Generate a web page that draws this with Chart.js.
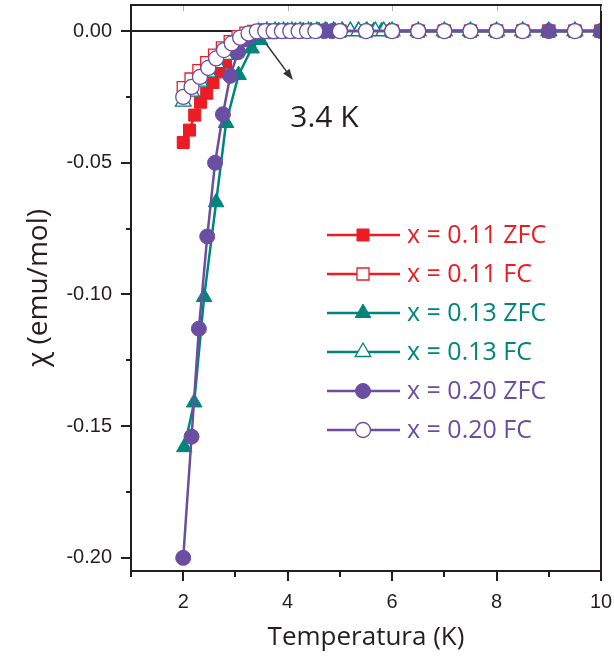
<!DOCTYPE html>
<html>
<head>
<meta charset="utf-8">
<script src="https://cdn.jsdelivr.net/npm/chart.js@4"></script>
<style>
  html, body { margin: 0; padding: 0; background: #fff; }
</style>
</head>
<body>
<canvas id="chiChart" width="614" height="661"></canvas>
<script>
// Susceptibility vs temperature
var tempZfc011 = [2.00, 2.12, 2.22, 2.33, 2.45, 2.57, 2.69, 2.81, 2.93, 3.05, 3.17, 3.29, 3.41, 3.53, 3.65, 3.77, 3.89, 4.01, 4.13, 4.25, 4.37, 4.49, 5.0, 5.5, 6.0, 6.5, 7.0, 7.5, 8.0, 8.5, 9.0, 9.5, 10.0];
var chiZfc011  = [-0.0423, -0.0376, -0.0319, -0.0270, -0.0236, -0.0195, -0.0155, -0.0118, -0.0085, -0.0057, -0.0033, -0.0016, -0.0005, 0, 0, 0, 0, 0, 0, 0, 0, 0, 0, 0, 0, 0, 0, 0, 0, 0, 0, 0, 0];

var tempFc011 = [2.00, 2.15, 2.30, 2.45, 2.60, 2.75, 2.90, 3.05, 3.20, 3.35, 3.50, 3.65, 3.80, 3.95, 4.10, 4.25, 4.40, 4.55, 5.0, 5.5, 6.0, 6.5, 7.0, 7.5, 8.0, 8.5, 9.0, 9.5, 10.0];
var chiFc011  = [-0.0215, -0.0182, -0.0150, -0.0120, -0.0091, -0.0064, -0.0040, -0.0021, -0.0008, -0.0001, 0, 0, 0, 0, 0, 0, 0, 0, 0, 0, 0, 0, 0, 0, 0, 0, 0, 0, 0];

var tempZfc013 = [2.02, 2.21, 2.40, 2.63, 2.82, 3.06, 3.31, 3.47, 3.65, 3.83, 4.00, 4.15, 4.30, 4.45, 4.60, 4.75, 4.90, 5.05, 5.20, 5.35, 5.50, 5.65, 5.80, 5.95, 6.5, 7.0, 7.5, 8.0, 8.5, 9.0, 9.5, 10.0];
var chiZfc013  = [-0.158, -0.141, -0.101, -0.065, -0.0349, -0.0167, -0.0066, -0.0034, -0.0012, 0, 0, 0, 0, 0, 0, 0, 0, 0, 0, 0, 0, 0, 0, 0, 0, 0, 0, 0, 0, 0, 0, 0];

var tempFc013 = [2.00, 2.16, 2.32, 2.48, 2.64, 2.80, 2.96, 3.12, 3.28, 3.44, 3.60, 3.76, 3.92, 4.08, 4.24, 4.40, 4.56, 4.72, 4.88, 5.04, 5.20, 5.36, 5.52, 5.68, 5.84, 6.0, 6.5, 7.0, 7.5, 8.0, 8.5, 9.0, 9.5, 10.0];
var chiFc013  = [-0.0268, -0.0230, -0.0192, -0.0157, -0.0122, -0.0090, -0.0060, -0.0035, -0.0016, -0.0004, 0, 0, 0, 0, 0, 0, 0, 0, 0, 0, 0, 0, 0, 0, 0, 0, 0, 0, 0, 0, 0, 0, 0, 0];

var tempZfc020 = [2.00, 2.16, 2.30, 2.46, 2.61, 2.76, 2.90, 3.05, 3.20, 3.35, 3.50, 3.65, 3.80, 3.95, 4.10, 4.25, 4.40, 4.55, 4.70, 4.85, 5.0, 5.5, 6.0, 6.5, 7.0, 7.5, 8.0, 8.5, 9.0, 9.5, 10.0];
var chiZfc020  = [-0.200, -0.154, -0.113, -0.078, -0.050, -0.0316, -0.0170, -0.0080, -0.0030, -0.0008, 0, 0, 0, 0, 0, 0, 0, 0, 0, 0, 0, 0, 0, 0, 0, 0, 0, 0, 0, 0, 0];

var tempFc020 = [2.00, 2.16, 2.32, 2.48, 2.63, 2.78, 2.93, 3.09, 3.25, 3.41, 3.57, 3.73, 3.89, 4.05, 4.21, 4.37, 4.53, 5.0, 5.5, 6.0, 6.5, 7.0, 7.5, 8.0, 8.5, 9.5];
var chiFc020  = [-0.0250, -0.0212, -0.0174, -0.0140, -0.0104, -0.0072, -0.0047, -0.0025, -0.0009, -0.0001, 0, 0, 0, 0, 0, 0, 0, 0, 0, 0, 0, 0, 0, 0, 0, 0];

var zeroLineTemp = [1, 10];
var zeroLineChi = [0, 0];

var seriesLabels = ['x = 0.11 ZFC', 'x = 0.11 FC', 'x = 0.13 ZFC', 'x = 0.13 FC', 'x = 0.20 ZFC', 'x = 0.20 FC'];

// axis ticks
var xTickValues = [2, 4, 6, 8, 10];
var xMinorTicks = [1, 3, 5, 7, 9];
var yTickValues = [0, -0.05, -0.10, -0.15, -0.20];
var yMinorTicks = [-0.025, -0.075, -0.125, -0.175];

// annotation "3.4 K" with arrow (data coordinates)
var arrowFrom = [3.59, -0.0049];
var arrowTo = [4.10, -0.0186];
var noteAt = [4.05, -0.033];
var noteText = '3.4 K';

var RED = '#ed1c24';
var TEAL = '#00857d';
var PURPLE = '#6a4ea2';

function pts(xs, ys) {
    return xs.map(function (x, i) { return { x: x, y: ys[i] }; });
}

function series(label, xs, ys, color, style, filled, radius, order) {
    return {
        label: label,
        data: pts(xs, ys),
        borderColor: color,
        backgroundColor: filled ? color : '#ffffff',
        pointBackgroundColor: filled ? color : '#ffffff',
        pointBorderColor: color,
        pointBorderWidth: filled ? 1 : 1.3,
        pointStyle: style,
        pointRadius: radius,
        borderWidth: 2.5,
        tension: 0,
        clip: 0,
        order: order
    };
}

var datasets = [
    series(seriesLabels[0], tempZfc011, chiZfc011, RED, 'rect', true, 8.5, 6),
    series(seriesLabels[1], tempFc011, chiFc011, RED, 'rect', false, 8.5, 5),
    series(seriesLabels[2], tempZfc013, chiZfc013, TEAL, 'triangle', true, 9, 4),
    series(seriesLabels[3], tempFc013, chiFc013, TEAL, 'triangle', false, 9, 3),
    series(seriesLabels[4], tempZfc020, chiZfc020, PURPLE, 'circle', true, 7.5, 2),
    series(seriesLabels[5], tempFc020, chiFc020, PURPLE, 'circle', false, 7.5, 1),
    {
        label: 'zero',
        data: pts(zeroLineTemp, zeroLineChi),
        borderColor: '#231f20',
        borderWidth: 2,
        pointRadius: 0,
        clip: 0,
        order: 10
    }
];

// tick marks, frame, legend and the arrow note
var decorations = {
    id: 'decorations',
    afterDraw: function (chart) {
        var ctx = chart.ctx;
        var xs = chart.scales.x, ys = chart.scales.y;
        var area = chart.chartArea;

        function tick(x1, y1, x2, y2) {
            ctx.beginPath(); ctx.moveTo(x1, y1); ctx.lineTo(x2, y2); ctx.stroke();
        }

        ctx.save();
        // frame on top and right
        ctx.strokeStyle = '#231f20';
        ctx.lineWidth = 2;
        tick(area.left - 1, area.top, area.right + 1, area.top);
        tick(area.right, area.top, area.right, area.bottom + 1);

        // outward ticks on left and bottom
        yTickValues.forEach(function (v) {
            var p = Math.round(ys.getPixelForValue(v));
            tick(area.left, p, area.left - 10, p);
        });
        yMinorTicks.forEach(function (v) {
            var p = Math.round(ys.getPixelForValue(v));
            tick(area.left, p, area.left - 5, p);
        });
        xTickValues.forEach(function (v) {
            var p = Math.round(xs.getPixelForValue(v));
            tick(p, area.bottom, p, area.bottom + 10);
        });
        xMinorTicks.forEach(function (v) {
            var p = Math.round(xs.getPixelForValue(v));
            tick(p, area.bottom, p, area.bottom + 6);
        });
        // faint ticks on the top edge
        ctx.strokeStyle = '#b0b0b0';
        ctx.lineWidth = 1;
        xTickValues.forEach(function (v) {
            var p = Math.round(xs.getPixelForValue(v)) + 0.5;
            tick(p, area.top + 1, p, area.top + 6);
        });

        // arrow
        var ax1 = xs.getPixelForValue(arrowFrom[0]), ay1 = ys.getPixelForValue(arrowFrom[1]);
        var ax2 = xs.getPixelForValue(arrowTo[0]), ay2 = ys.getPixelForValue(arrowTo[1]);
        var ang = Math.atan2(ay2 - ay1, ax2 - ax1);
        ctx.strokeStyle = '#333333';
        ctx.fillStyle = '#333333';
        ctx.lineWidth = 1.5;
        tick(ax1, ay1, ax2 - 8 * Math.cos(ang), ay2 - 8 * Math.sin(ang));
        ctx.beginPath();
        ctx.moveTo(ax2, ay2);
        ctx.lineTo(ax2 - 11 * Math.cos(ang) + 4 * Math.sin(ang), ay2 - 11 * Math.sin(ang) - 4 * Math.cos(ang));
        ctx.lineTo(ax2 - 11 * Math.cos(ang) - 4 * Math.sin(ang), ay2 - 11 * Math.sin(ang) + 4 * Math.cos(ang));
        ctx.closePath();
        ctx.fill();

        // note text
        ctx.fillStyle = '#231f20';
        ctx.font = '30px "Open Sans"';
        ctx.textAlign = 'left';
        ctx.textBaseline = 'middle';
        ctx.fillText(noteText, xs.getPixelForValue(noteAt[0]), ys.getPixelForValue(noteAt[1]));

        // legend inside the plot
        var lx1 = 327, lx2 = 400, mx = 363, tx = 407, ly = 235, step = 39;
        chart.data.datasets.forEach(function (ds, i) {
            if (i >= seriesLabels.length) return;
            var y = ly + i * step;
            ctx.strokeStyle = ds.borderColor;
            ctx.lineWidth = 2.5;
            tick(lx1, y, lx2, y);
            ctx.fillStyle = ds.pointBackgroundColor;
            ctx.lineWidth = ds.pointBorderWidth;
            Chart.helpers.drawPoint(ctx, {
                pointStyle: ds.pointStyle,
                radius: ds.pointRadius,
                borderWidth: ds.pointBorderWidth,
                rotation: 0
            }, mx, y);
            ctx.fillStyle = ds.borderColor;
            ctx.font = '25px "Open Sans"';
            ctx.textAlign = 'left';
            ctx.textBaseline = 'middle';
            ctx.fillText(ds.label, tx, y + 1);
        });
        ctx.restore();
    }
};

var ctx = document.getElementById('chiChart').getContext('2d');
var chiChart = new Chart(ctx, {
    type: 'line',
    data: { datasets: datasets },
    options: {
        responsive: false,
        animation: false,
        devicePixelRatio: 1,
        layout: { autoPadding: false, padding: { top: 5, right: 13, left: 0, bottom: 0 } },
        plugins: {
            legend: { display: false },
            tooltip: { enabled: false }
        },
        scales: {
            x: {
                type: 'linear',
                min: 1,
                max: 10,
                afterFit: function (scale) {
                    scale.height = 90;
                    scale.paddingLeft = 0;
                    scale.paddingRight = 0;
                },
                afterBuildTicks: function (scale) {
                    scale.ticks = xTickValues.map(function (v) { return { value: v }; });
                },
                grid: { drawOnChartArea: false, drawTicks: false },
                border: { color: '#231f20', width: 2 },
                ticks: {
                    padding: 19,
                    color: '#231f20',
                    maxRotation: 0,
                    font: { family: '"Liberation Sans", Arial', size: 20 },
                    callback: function (v) { return String(v); }
                },
                title: {
                    display: true,
                    text: 'Temperatura (K)',
                    color: '#231f20',
                    font: { family: '"Open Sans"', size: 26 },
                    padding: { top: 0, bottom: 8 }
                }
            },
            y: {
                type: 'linear',
                min: -0.205,
                max: 0.0099,
                afterFit: function (scale) {
                    scale.width = 131;
                    scale.paddingTop = 0;
                    scale.paddingBottom = 0;
                },
                afterBuildTicks: function (scale) {
                    scale.ticks = yTickValues.map(function (v) { return { value: v }; });
                },
                grid: { drawOnChartArea: false, drawTicks: false },
                border: { color: '#231f20', width: 2 },
                ticks: {
                    padding: 19,
                    color: '#231f20',
                    font: { family: '"Liberation Sans", Arial', size: 20 },
                    callback: function (v) { return Number(v).toFixed(2); }
                },
                title: {
                    display: true,
                    text: 'χ (emu/mol)',
                    color: '#231f20',
                    font: { family: '"Open Sans"', size: 28 },
                    padding: { top: 22, bottom: 0 }
                }
            }
        }
    },
    plugins: [decorations]
});
</script>
</body>
</html>
